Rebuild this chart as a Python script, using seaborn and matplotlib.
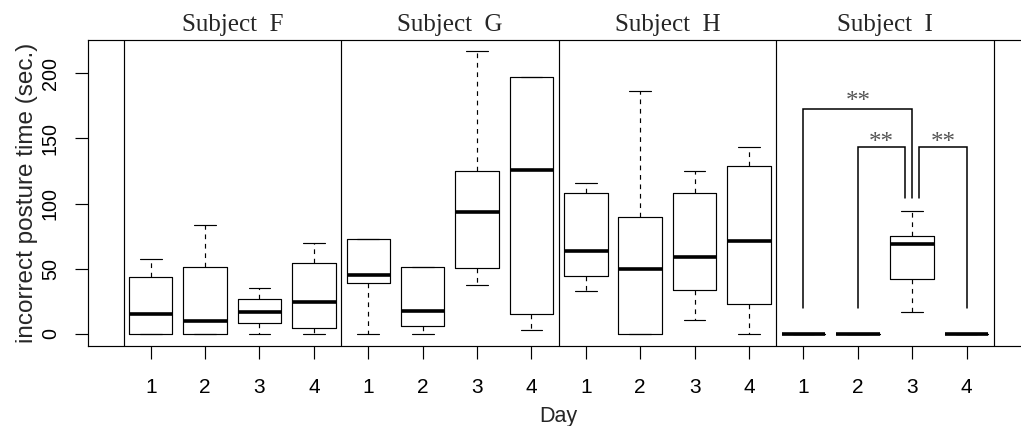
import matplotlib
matplotlib.use("Agg")
import matplotlib.pyplot as plt
import matplotlib.transforms as mtransforms
import seaborn as sns
import pandas as pd

# five-number summaries: [min, q1, median, q3, max] per day
subjects = ["F", "G", "H", "I"]
days = [1, 2, 3, 4]
subj_F = [[0, 0, 15.1, 43.9, 57.7], [0, 0, 10.0, 51.6, 83.3],
          [0, 8.2, 17.1, 26.6, 35.5], [0, 4.9, 24.8, 54.6, 69.7]]
subj_G = [[0, 39.3, 45.5, 72.6, 72.6], [0, 6.4, 17.9, 51.6, 51.6],
          [37.5, 50.8, 93.5, 125.2, 216.9], [3.1, 15.6, 125.4, 197.2, 197.2]]
subj_H = [[32.7, 44.7, 63.9, 107.8, 115.7], [0, 0, 49.6, 89.7, 186.5],
          [10.7, 33.7, 59.3, 108.3, 125.2], [0, 22.8, 71.5, 128.7, 143.5]]
subj_I = [[0, 0, 0, 0, 0], [0, 0, 0, 0, 0],
          [16.9, 42.1, 69.2, 74.9, 94.3], [0, 0, 0, 0, 0]]
yticks = [0, 50, 100, 150, 200]

# significance brackets in subject I: (day_a, day_b, top, foot_a, foot_b, label_y)
brackets = [(1, 3, 172.2, 19.7, 104.0, 178.0),
            (2, 2.87, 143.1, 19.7, 104.0, 146.0),
            (3.13, 4, 143.1, 104.0, 19.7, 146.0)]
bracket_label = "**"

rows = []
for subj, summ in zip(subjects, [subj_F, subj_G, subj_H, subj_I]):
    for d, vals in zip(days, summ):
        for v in vals:
            rows.append({"slot": f"{subj}{d}", "time": v})
df = pd.DataFrame(rows)
order = [f"{s}{d}" for s in subjects for d in days]

sns.set_style("ticks")
plt.rcParams["font.family"] = ["Liberation Sans", "DejaVu Sans"]
serif = ["Liberation Serif", "DejaVu Serif"]

fig = plt.figure(figsize=(10.21, 4.26), dpi=100)
ax = fig.add_axes([0.0865, 0.1878, 0.9213, 0.7183])

lw = 0.85
sns.boxplot(data=df, x="slot", y="time", order=order, ax=ax,
            color="black", fill=False, width=0.8, whis=(0, 100),
            linewidth=lw, showfliers=False,
            boxprops={"linewidth": lw, "color": "black"},
            medianprops={"linewidth": 2.6, "color": "black", "solid_capstyle": "butt"},
            whiskerprops={"linestyle": (0, (4, 4)), "linewidth": lw, "color": "black"},
            capprops={"linestyle": "-", "linewidth": lw, "color": "black"})

ax.set_xlim(-1.147, 16.147)
ax.set_ylim(-9.2, 225.3)

# panel separators
for k in range(len(subjects) + 1):
    ax.axvline(4 * k - 0.5, color="black", lw=lw)

trans = mtransforms.blended_transform_factory(ax.transData, ax.transAxes)
for k, s in enumerate(subjects):
    ax.text(4 * k + 1.5, 1.03, f"Subject  {s}", transform=trans,
            ha="center", va="baseline", fontsize=18, family=serif)

# brackets on subject I
base = 12 - 1
for a, b, top, fa, fb, ly in brackets:
    xa, xb = base + a, base + b
    ax.plot([xa, xa, xb, xb], [fa, top, top, fb], color="black", lw=1.1,
            solid_joinstyle="miter")
    ax.text((xa + xb) / 2, ly, bracket_label, ha="center", va="center",
            fontsize=18, color="#555555", family=serif)

ax.set_xticks(range(len(order)))
ax.set_xticklabels([str(d) for _ in subjects for d in days])
ax.set_yticks(yticks)
ax.set_yticklabels([str(v) for v in yticks], rotation=90, va="center")
ax.tick_params(axis="x", length=9.4, width=lw, pad=13.5, labelsize=15, colors="black")
ax.tick_params(axis="y", length=9.4, width=lw, pad=11, labelsize=14.2, colors="black")

ax.set_xlabel("Day", fontsize=15.5)
ax.set_ylabel("incorrect posture time (sec.)", fontsize=17.5)
ax.xaxis.set_label_coords(0.5, -0.195)
ax.yaxis.set_label_coords(-0.0535, 0.5)

for sp in ax.spines.values():
    sp.set_visible(True)
    sp.set_color("black")
    sp.set_linewidth(lw)

fig.savefig("out.png", dpi=100)
